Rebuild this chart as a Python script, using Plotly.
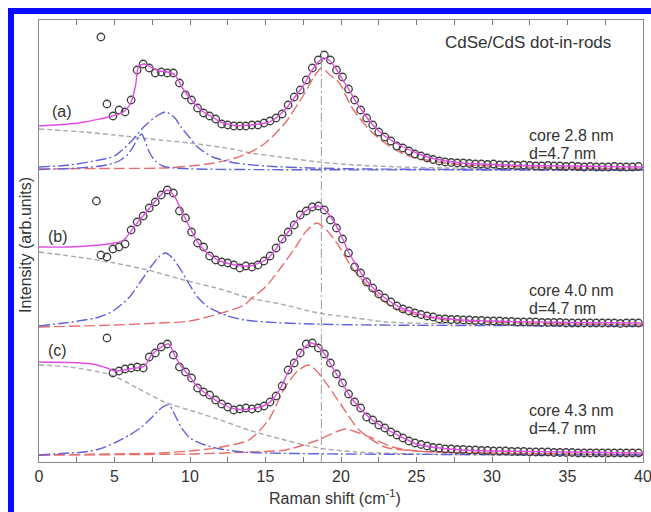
import plotly.graph_objects as go

# ---------------- data (intensity above each panel's baseline, arb. units) ----------------
X_START, X_STEP, N_PTS = 4.5, 0.4, 89
x_data = [round(X_START + X_STEP * i, 2) for i in range(N_PTS)]

data_a = [66, 54, 60, 58, 70, 100, 106, 102, 97, 98, 97, 97, 87, 75, 70, 62, 57, 54, 51, 46,
          45, 44, 44, 44, 45, 45, 47, 49, 52, 56, 65, 73, 80, 90, 102, 110, 115, 110, 100, 93,
          81, 70, 60, 52, 45, 38, 33, 29, 24, 22, 19, 16, 14, 12, 10.5, 9, 8,
          7.5, 7, 7, 6.5, 6, 6, 5.5, 6, 5, 5, 5, 4.5, 5, 4.5, 4, 4, 4.5, 4, 4, 3.5, 4, 3.5, 3,
          3.5, 3, 3, 3, 3.5, 3, 3, 3, 3.5]
data_b = [68, 76, 78, 81, 95, 103, 109, 117, 123, 130, 135, 132, 114, 107, 93, 82, 78, 69, 65, 63,
          62, 60, 57, 59, 58, 60, 64, 69, 77, 86, 93, 100, 110, 114, 118, 119, 115, 105, 97, 86,
          72, 58, 52, 43, 37, 31, 27, 23, 19, 16, 14, 12, 10.5, 9, 8, 6, 6,
          5.5, 5.5, 5, 5, 4.5, 4.5, 4, 4, 4, 3.5, 3.5, 3, 3, 3, 3, 2.5, 2.5, 2.5, 2.5, 2, 2, 2, 2,
          2, 2, 2, 2, 2, 1.5, 2, 2, 2]
data_c = [117, 82, 84, 86, 87, 88, 87, 98, 102, 108, 111, 100, 88, 83, 77, 67, 63, 60, 55, 51,
          48, 45, 46, 47, 46, 47, 49, 53, 59, 69, 85, 92, 102, 111, 112, 107, 101, 92, 81, 72,
          61, 53, 47, 38, 35, 30, 27, 23, 20, 17, 14, 12, 10.5, 9, 7.5, 7, 6,
          6, 5.5, 5.5, 5, 5, 4.5, 4.5, 4, 4, 4, 3.5, 3.5, 3.5, 3, 3, 3, 3, 2.5, 2.5, 2.5, 2.5, 2,
          2, 2, 2, 2, 2, 2, 2, 2, 2, 2]
# stray points at the low-shift end
extra_x_a, extra_y_a = [4.1], [133]
extra_x_b, extra_y_b = [3.8, 4.1], [124, 70]

# total fits (magenta)
fit_x_a = [0, 1, 2, 3, 4, 4.6, 5.6, 6.1, 6.4, 6.6, 7.0, 7.5, 8.0, 8.5, 9.0, 9.5, 10, 10.5, 11, 11.5,
           12, 12.5, 13, 14, 15, 15.5, 16, 16.5, 17, 17.5, 18, 18.5, 18.8, 19.2, 19.6, 20, 20.5, 21,
           21.5, 22, 22.5, 23, 24, 25, 26, 27, 28, 30, 32, 35, 40]
fit_y_a = [44, 45, 46, 48, 51, 53, 58, 68, 85, 104, 106, 102, 99, 98, 95, 82, 72, 63, 57, 53,
           48, 46, 44.5, 45, 47, 50, 56, 64, 74, 84, 98, 108, 112, 110, 103, 93, 81, 68,
           57, 47, 39, 33, 24, 17, 12, 9, 7, 5.5, 4.5, 4, 3]
fit_x_b = [0, 2, 4, 5, 5.6, 6.0, 6.5, 7, 7.5, 8, 8.5, 9, 9.5, 10, 10.5, 11, 11.5, 12, 13, 14, 15,
           15.5, 16, 16.5, 17, 17.5, 18, 18.5, 19, 19.5, 20, 20.5, 21, 21.5, 22, 23, 24, 25, 26, 28,
           30, 35, 40]
fit_y_b = [78, 78, 80, 82, 85, 92, 102, 111, 120, 129, 135, 128, 112, 97, 83, 74, 68, 64, 60, 59, 65,
           72, 83, 93, 103, 112, 117, 119, 114, 104, 90, 73, 60, 48, 39, 26, 17, 12, 8, 5,
           4, 2.5, 2]
fit_x_c = [0, 2, 3.5, 4.5, 5, 6, 7, 7.4, 8, 8.6, 9, 9.5, 10, 10.5, 11, 12, 13, 14, 15, 15.5, 16,
           16.5, 17, 17.5, 18, 18.5, 19, 19.5, 20, 20.5, 21, 22, 23, 24, 25, 26, 28, 30, 35, 40]
fit_y_c = [93, 92.5, 91, 87, 84, 86, 89, 99, 107, 111, 99, 87, 78, 68, 62, 52, 46, 46, 50, 56, 67,
           83, 95, 106, 112, 108, 99, 86, 74, 61, 51, 36, 26, 18, 11, 8, 5, 4, 3, 2]

# background (gray dashed)
bg_x_a = [0, 3, 5, 8, 10, 12.8, 14, 16, 18.5, 21, 24, 27, 32, 40]
bg_y_a = [41, 38, 35, 30, 27, 21, 17, 13, 8, 5, 3, 2, 1, 0.5]
bg_x_b = [0, 3, 5, 7.2, 9.6, 12, 13.9, 16, 18.5, 21, 23, 26, 30, 40]
bg_y_b = [73, 67, 62, 55, 45, 36, 27, 21, 12, 7, 3, 1.5, 1, 0]
bg_x_c = [0, 2, 4.8, 6.5, 8.3, 10.6, 12, 13.9, 16, 18.5, 21, 25, 30, 40]
bg_y_c = [90, 88, 80, 67, 53, 42, 35, 25, 16, 7, 3, 1, 0, 0]

# low-frequency (blue dash-dot) components
blue1_x_a = [0, 2, 3.5, 4.5, 5.3, 5.9, 6.3, 6.6, 6.8, 7.0, 7.3, 7.7, 8.2, 9, 10, 12, 16, 25, 40]
blue1_y_a = [0.5, 1.5, 3, 5, 9, 16, 25, 33, 36, 30, 18, 9, 4, 2, 1.2, 0.6, 0.3, 0.1, 0]
blue2_x_a = [0, 2, 4, 5, 6, 7, 7.8, 8.4, 9, 9.4, 10, 10.5, 11.5, 13, 15, 18, 22, 30, 40]
blue2_y_a = [3, 5, 10, 14, 27, 44, 54, 58, 52, 43, 32, 23, 13, 7, 4, 2, 1, 0.5, 0]
blue_x_b = [0, 1.7, 3, 4, 5, 6, 6.8, 7.5, 8.0, 8.4, 8.9, 9.4, 9.9, 10.5, 11.2, 12.5, 13.6, 15, 18, 22, 40]
blue_y_b = [-1, 2, 5, 8, 15, 28, 45, 60, 69, 72, 66, 55, 42, 28, 18, 9, 5, 3, 1, 0, -1]
blue_x_c = [0, 2, 3, 4, 5, 6, 6.8, 7.5, 8.1, 8.6, 9.0, 9.4, 10, 11, 12, 13.5, 15, 20, 40]
blue_y_c = [0, 2, 3, 6, 12, 20, 28, 38, 47, 50, 40, 28, 17, 10, 6, 3, 2, 1, 0]

# high-frequency (red dashed) components
red_x_a = [0, 4, 8.3, 10, 11.6, 13, 13.9, 15, 16.3, 17.6, 18.2, 18.7, 19.2, 19.9, 20.7, 21.9, 22.9,
           24, 25, 26, 28, 30, 35, 40]
red_y_a = [1, 1.5, 2, 4, 7, 12, 17, 27, 47, 77, 93, 102, 96, 87, 63, 40, 27, 17, 12, 9, 5, 4, 2, 1]
red_x_b = [0, 5, 8, 10, 12.1, 13.6, 14.1, 15, 15.9, 17.0, 17.7, 18.4, 19.1, 19.9, 20.7, 21.9, 23.4,
           25, 27, 30, 35, 40]
red_y_b = [-2, 0, 2, 4, 12, 20, 27, 38, 55, 78, 94, 102, 94, 78, 58, 37, 18, 10, 5, 3, 1, 0]
red1_x_c = [0, 5, 8, 10, 12.1, 13.9, 15.2, 16.3, 17.2, 17.9, 18.5, 19.2, 20.1, 21.2, 22.9, 25, 30, 40]
red1_y_c = [0, 1, 2, 4, 8, 15, 35, 68, 85, 90, 82, 68, 48, 25, 8, 4, 2, 0]
red2_x_c = [0, 10, 14, 16.3, 18.5, 19.5, 20.3, 21, 21.9, 23.4, 25, 28, 32, 40]
red2_y_c = [0, 1, 3, 5, 15, 22, 26, 23, 18, 8, 4, 2, 1, 0]

panel_labels = ["(a)", "(b)", "(c)"]
core_labels = ["core 2.8 nm", "core 4.0 nm", "core 4.3 nm"]
rod_label = "d=4.7 nm"
title_text = "CdSe/CdS dot-in-rods"
x_ticks = [0, 5, 10, 15, 20, 25, 30, 35, 40]
ref_shift = 18.7

# ---------------- layout constants ----------------
OFF_A, OFF_B, OFF_C = 292, 137, 7
Y_MAX = 442

C_FIT = "#df4fdf"
C_PT = "#3f3f3f"
C_BG = "#a9a9a9"
C_BLUE = "#6262dc"
C_RED = "#e86f6f"
FONT = "Liberation Sans, Arial, sans-serif"

fig = go.Figure()


def add_curve(xs, ys, off, color, dash, width=1.4, shape="spline"):
    fig.add_trace(go.Scatter(
        x=xs, y=[v + off for v in ys], mode="lines",
        line=dict(color=color, width=width, dash=dash, shape=shape, smoothing=0.7),
        hoverinfo="skip", showlegend=False))


def add_points(xs, ys, off):
    fig.add_trace(go.Scatter(
        x=xs, y=[v + off for v in ys], mode="markers",
        marker=dict(symbol="circle", size=7.5, color="rgba(255,255,255,0)",
                    line=dict(color=C_PT, width=1.3)),
        showlegend=False))


DASH_BG = "5px,3px"
DASH_BLUE = "11px,3px,2px,3px"
DASH_RED = "11px,4px"

panels = [
    (OFF_A, bg_x_a, bg_y_a, [(blue1_x_a, blue1_y_a), (blue2_x_a, blue2_y_a)],
     [(red_x_a, red_y_a)], x_data, data_a, extra_x_a, extra_y_a, fit_x_a, fit_y_a),
    (OFF_B, bg_x_b, bg_y_b, [(blue_x_b, blue_y_b)],
     [(red_x_b, red_y_b)], x_data, data_b, extra_x_b, extra_y_b, fit_x_b, fit_y_b),
    (OFF_C, bg_x_c, bg_y_c, [(blue_x_c, blue_y_c)],
     [(red1_x_c, red1_y_c), (red2_x_c, red2_y_c)], x_data, data_c, [], [], fit_x_c, fit_y_c),
]

for off, bx, by, blues, reds, dx, dy, ex, ey, fx, fy in panels:
    add_curve(bx, by, off, C_BG, DASH_BG, 1.4)
    for rx, ry in reds:
        add_curve(rx, ry, off, C_RED, DASH_RED, 1.4)
    for ux, uy in blues:
        add_curve(ux, uy, off, C_BLUE, DASH_BLUE, 1.4)
    add_points(dx + ex, dy + ey, off)
    add_curve(fx, fy, off, C_FIT, "solid", 1.4)

# reference line
fig.add_shape(type="line", x0=ref_shift, x1=ref_shift, y0=0, y1=412, xref="x", yref="y",
              line=dict(color="#9c9c9c", width=1, dash="9px,3px,2px,3px"), layer="above")

# annotations
ann = []
ann.append(dict(x=26.75, y=420, text=title_text, xanchor="left", yanchor="middle", showarrow=False,
                font=dict(size=17, color="#333", family=FONT)))
for lab, (lx, ly) in zip(panel_labels, [(1.5, 351), (1.25, 226), (1.25, 112)]):
    ann.append(dict(x=lx, y=ly, text=lab, showarrow=False, xanchor="center", yanchor="middle",
                    font=dict(size=16, color="#333", family=FONT)))
for lab, (cy, dy2) in zip(core_labels, [(327, 309), (172, 154), (52, 34)]):
    ann.append(dict(x=32.3, y=cy, text=lab, showarrow=False, xanchor="left", yanchor="middle",
                    font=dict(size=16, color="#333", family=FONT)))
    ann.append(dict(x=32.3, y=dy2, text=rod_label, showarrow=False, xanchor="left", yanchor="middle",
                    font=dict(size=16, color="#333", family=FONT)))
ann.append(dict(x=0.49, y=-0.079, xref="paper", yref="paper", text="Raman shift (cm<sup>-1</sup>)",
                showarrow=False, xanchor="center", yanchor="middle",
                font=dict(size=16, color="#333", family=FONT)))
ann.append(dict(x=-0.0215, y=0.491, xref="paper", yref="paper", text="Intensity (arb.units)",
                textangle=-90, showarrow=False, xanchor="center", yanchor="middle",
                font=dict(size=16, color="#333", family=FONT)))

# blue border of the figure
shapes = [
    dict(type="rect", xref="paper", yref="paper", x0=-0.0513, x1=-0.0414, y0=-0.2, y1=1.0271,
         fillcolor="#0a0aff", line=dict(width=0), layer="above"),
    dict(type="rect", xref="paper", yref="paper", x0=-0.0513, x1=1.1, y0=1.0136, y1=1.0271,
         fillcolor="#0a0aff", line=dict(width=0), layer="above"),
]
for s in shapes:
    fig.add_shape(**s)

fig.update_layout(
    width=651, height=512,
    margin=dict(l=39, r=8, t=20, b=50, autoexpand=False),
    paper_bgcolor="white", plot_bgcolor="white",
    showlegend=False,
    annotations=ann,
    font=dict(family=FONT, color="#333", size=16),
    xaxis=dict(range=[0, 40], tickmode="array", tickvals=x_ticks,
               ticktext=[str(t) for t in x_ticks], ticklabeloverflow="allow",
               automargin=False,
               ticks="inside", ticklen=5, tickcolor="#777", showline=True, linecolor="#888",
               linewidth=1, mirror="ticks", showgrid=False, zeroline=False,
               minor=dict(tickvals=[2.5, 7.5, 12.5, 17.5, 22.5, 27.5, 32.5, 37.5],
                          ticks="inside", ticklen=5, tickcolor="#777"),
               tickfont=dict(size=16, color="#333", family=FONT)),
    yaxis=dict(range=[0, Y_MAX], showticklabels=False, ticks="", showline=True, linecolor="#888",
               linewidth=1, mirror=True, showgrid=False, zeroline=False, automargin=False),
)

fig.write_html("out.html")
